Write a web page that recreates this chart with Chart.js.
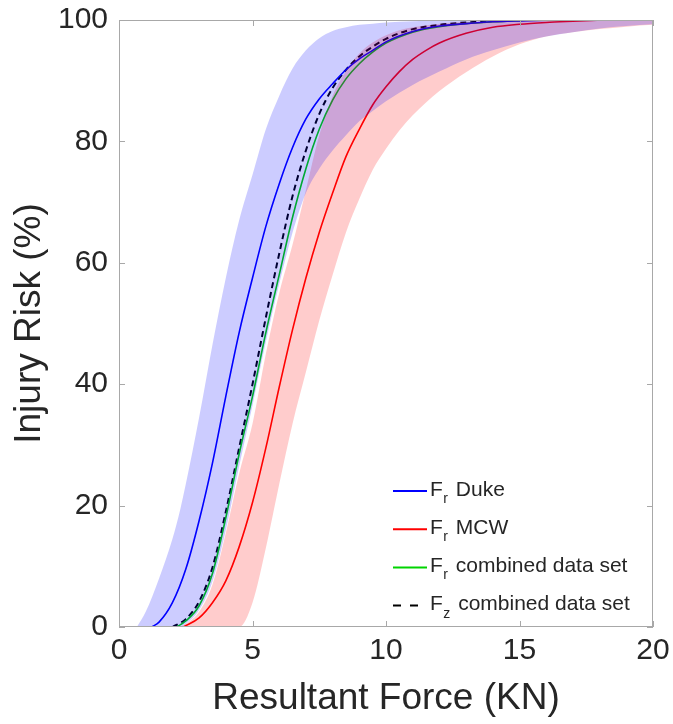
<!DOCTYPE html>
<html>
<head>
<meta charset="utf-8">
<script src="https://cdn.jsdelivr.net/npm/chart.js@4"></script>
<style>
  html, body { margin: 0; padding: 0; background: #fff; }
  #wrap { width: 673px; height: 724px; }
</style>
</head>
<body>
<div id="wrap"><canvas id="risk"></canvas></div>
<script>
// force (kN) / injury risk (%)
const dukeX = [1.22, 1.5, 2, 2.5, 3, 3.5, 4, 4.5, 5, 5.5, 6, 6.5, 7, 7.5, 8, 8.5, 9, 9.5, 10, 11, 12, 13, 14, 15, 16, 17.3]
const dukeRisk = [0, 0.8, 4, 9.5, 17.5, 27, 38, 48.5, 57.5, 66, 73, 79, 83.7, 87, 89.5, 91.8, 93.6, 95, 96.4, 98.1, 99, 99.4, 99.7, 99.85, 99.95, 100]

const mcwX = [2.41, 3, 3.5, 4, 4.5, 5, 5.5, 6, 6.5, 7, 7.5, 8, 8.5, 9, 9.5, 10, 10.5, 11, 11.5, 12, 13, 14, 15, 16, 17, 18.1]
const mcwRisk = [0, 1.5, 4, 7.6, 13.2, 20.5, 29.5, 39.5, 49, 57.5, 65, 71.5, 77.5, 82, 86, 89, 91.5, 93.5, 95, 96.2, 97.8, 98.8, 99.3, 99.6, 99.8, 100]

const frCombX = [2.16, 2.5, 3, 3.5, 4, 4.5, 5, 5.5, 6, 6.5, 7, 7.5, 8, 8.5, 9, 9.5, 10, 11, 12, 13, 14, 15.4]
const frCombRisk = [0, 1, 3.5, 8.8, 18, 28.5, 38, 48.5, 58, 67.5, 75.5, 82, 86.8, 90.3, 92.8, 94.7, 96.2, 98, 98.9, 99.4, 99.7, 100]

const fzCombX = [2.0, 2.5, 3, 3.5, 4, 4.5, 5, 5.5, 6, 6.5, 7, 7.5, 8, 8.5, 9, 9.5, 10, 11, 12, 13, 14, 14.8]
const fzCombRisk = [0, 1.3, 4.2, 9.8, 19, 29.5, 40, 51, 61.5, 71, 78.5, 84.5, 88.8, 91.8, 94, 95.6, 96.9, 98.5, 99.2, 99.6, 99.85, 100]

// confidence bands
const dukeBandX = [0.67, 1, 1.5, 2, 2.3, 2.5, 3, 3.5, 4, 4.5, 5, 5.5, 6, 6.5, 7, 7.5, 8, 8.5, 9, 9.5, 10, 11, 12, 13, 14, 15, 16, 17, 18, 19, 20]
const dukeBandHi = [0, 2.5, 8, 14.5, 19.5, 23.5, 34.5, 46.5, 57.5, 67, 74.5, 82, 87.5, 92, 95, 97, 98.2, 98.8, 99.2, 99.4, 99.6, 99.8, 99.9, 100, 100, 100, 100, 100, 100, 100, 100]
const dukeBandLo = [0, 0, 0, 0, 0, 0.5, 2.8, 7.5, 16, 26.5, 36.5, 47, 56.5, 65, 71.5, 75.5, 78.5, 81, 83.3, 85, 86.6, 89.3, 91.5, 93.5, 95, 96.3, 97.3, 98, 98.6, 99, 99.3]

const mcwBandX = [2.28, 2.5, 3, 3.5, 4, 4.5, 5, 5.5, 6, 6.5, 7, 7.5, 8, 8.5, 9, 9.5, 10, 10.5, 11, 12, 13, 14, 15, 16, 17, 18, 19, 20]
const mcwBandHi = [0, 0.5, 2.5, 7, 15.5, 25.3, 33.5, 45, 55, 63, 72, 81, 87.5, 91.6, 94.5, 96.3, 97.5, 98.3, 98.8, 99.4, 99.7, 99.85, 100, 100, 100, 100, 100, 100]
const mcwBandLo = [0, 0, 0, 0, 0, 0, 4, 13, 23.5, 33.5, 42, 50.5, 58, 65, 70.5, 75.3, 78.8, 81.8, 84.3, 88.3, 91.4, 94, 96, 97.3, 98, 98.5, 98.9, 99.2]

const xTicks = [0, 5, 10, 15, 20]
const yTicks = [0, 20, 40, 60, 80, 100]
const legendSubs = ['r', 'r', 'r', 'z']
const legendNames = ['Duke', 'MCW', 'combined data set', 'combined data set']

const FONT = 'Arial, "Liberation Sans", sans-serif'
const INK = '#262626'

const pts = (xs, ys) => xs.map((x, i) => ({ x: x, y: ys[i] }))

function band(xs, ys, fill, color) {
    return {
        data: pts(xs, ys), fill: fill, backgroundColor: color,
        borderWidth: 0, pointRadius: 0, cubicInterpolationMode: 'monotone'
    }
}

function curve(xs, ys, color, dash, idx) {
    return {
        data: pts(xs, ys), fill: false, borderColor: color, borderWidth: dash.length ? 2 : 1.6,
        borderDash: dash, pointRadius: 0, cubicInterpolationMode: 'monotone',
        legendIdx: idx
    }
}

// labels may hang over the plot edges, don't let them push the plot area in
function noOverhang(s) {
    s.paddingTop = 0; s.paddingBottom = 0
    s.paddingLeft = 0; s.paddingRight = 0
}

// inward tick marks and a box, like the matlab axes
const frame = {
    id: 'frame',
    afterDatasetsDraw(chart) {
        const { ctx, chartArea: a, scales: { x, y } } = chart
        ctx.save()
        ctx.strokeStyle = '#a8a8a8'
        ctx.lineWidth = 1
        ctx.strokeRect(a.left + 0.5, a.top + 0.5, a.right - a.left - 1, a.bottom - a.top - 1)
        ctx.beginPath()
        xTicks.forEach(v => {
            const px = Math.round(x.getPixelForValue(v)) + 0.5
            ctx.moveTo(px, a.bottom); ctx.lineTo(px, a.bottom - 6)
            ctx.moveTo(px, a.top); ctx.lineTo(px, a.top + 6)
        })
        yTicks.forEach(v => {
            const py = Math.round(y.getPixelForValue(v)) + 0.5
            ctx.moveTo(a.left, py); ctx.lineTo(a.left + 6, py)
            ctx.moveTo(a.right, py); ctx.lineTo(a.right - 6, py)
        })
        ctx.stroke()
        ctx.restore()
    }
}

// legend with subscripts (F_r, F_z), no box
const subLegend = {
    id: 'subLegend',
    afterDraw(chart) {
        const { ctx, chartArea: a } = chart
        const rows = chart.data.datasets.filter(d => d.legendIdx !== undefined)
        ctx.save()
        rows.forEach(d => {
            const i = d.legendIdx
            const ly = a.bottom - 136 + i * 38.2
            const x0 = a.left + 274
            ctx.strokeStyle = d.borderColor
            ctx.lineWidth = 2
            ctx.setLineDash(d.borderDash.length ? [8, 9] : [])
            ctx.beginPath()
            ctx.moveTo(x0, ly); ctx.lineTo(x0 + 34, ly)
            ctx.stroke()
            ctx.setLineDash([])

            ctx.fillStyle = INK
            ctx.textBaseline = 'alphabetic'
            let tx = x0 + 37
            ctx.font = '21px ' + FONT
            ctx.fillText('F', tx, ly + 4.5)
            tx += ctx.measureText('F').width + 0.5
            ctx.font = '14px ' + FONT
            ctx.fillText(legendSubs[i], tx, ly + 12)
            tx += ctx.measureText(legendSubs[i]).width
            ctx.font = '21px ' + FONT
            ctx.fillText(' ' + legendNames[i], tx + 2, ly + 4.5)
        })
        ctx.restore()
    }
}

new Chart(document.getElementById('risk'), {
    type: 'line',
    data: {
        datasets: [
            band(dukeBandX, dukeBandHi, '+1', 'rgba(0,0,255,0.2)'),
            band(dukeBandX, dukeBandLo, false, 'transparent'),
            band(mcwBandX, mcwBandHi, '+1', 'rgba(255,0,0,0.2)'),
            band(mcwBandX, mcwBandLo, false, 'transparent'),
            curve(dukeX, dukeRisk, '#0000ff', [], 0),
            curve(mcwX, mcwRisk, '#ff0000', [], 1),
            curve(frCombX, frCombRisk, '#00d400', [], 2),
            curve(fzCombX, fzCombRisk, '#000000', [6, 4], 3)
        ]
    },
    options: {
        animation: false,
        responsive: true,
        maintainAspectRatio: false,
        layout: { padding: { top: 20, right: 20, left: 0, bottom: 0 } },
        plugins: { legend: { display: false }, tooltip: { enabled: false } },
        scales: {
            x: {
                type: 'linear', min: 0, max: 20,
                afterBuildTicks: s => { s.ticks = xTicks.map(v => ({ value: v })) },
                afterFit: s => { s.height = 97; noOverhang(s) },
                grid: { display: false, drawTicks: false },
                border: { display: false },
                ticks: { color: INK, font: { family: FONT, size: 30 }, padding: 6, maxRotation: 0 },
                title: { display: true, text: 'Resultant Force (KN)', color: INK, font: { family: FONT, size: 37 }, padding: { top: 0, bottom: 3 } }
            },
            y: {
                min: 0, max: 100,
                afterBuildTicks: s => { s.ticks = yTicks.map(v => ({ value: v })) },
                afterFit: s => { s.width = 119; noOverhang(s) },
                grid: { display: false, drawTicks: false },
                border: { display: false },
                ticks: { color: INK, font: { family: FONT, size: 30 }, padding: 11 },
                title: { display: true, text: 'Injury Risk (%)', color: INK, font: { family: FONT, size: 37 }, padding: { top: 8, bottom: 0 } }
            }
        }
    },
    plugins: [frame, subLegend]
})
</script>
</body>
</html>
